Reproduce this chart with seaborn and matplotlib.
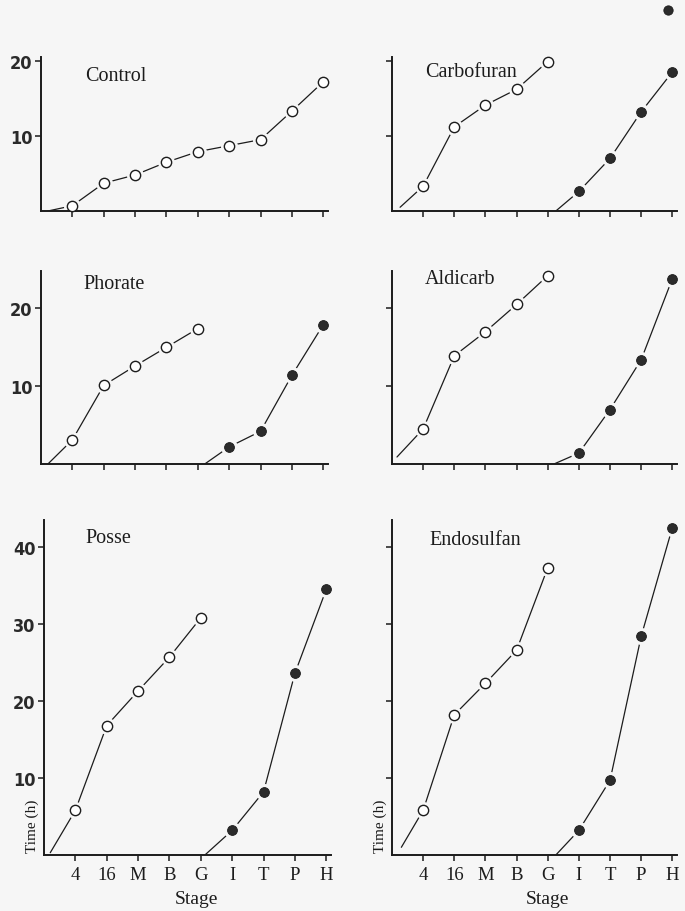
import numpy as np
import pandas as pd
import matplotlib
matplotlib.use("Agg")
import matplotlib.pyplot as plt
import seaborn as sns

stages = ['4', '16', 'M', 'B', 'G', 'I', 'T', 'P', 'H']
panels = ['Control', 'Carbofuran', 'Phorate', 'Aldicarb', 'Posse', 'Endosulfan']

# Time (h) at each stage; open circles = stages 4..G (or all, control), filled = I..H
control_open = [0.7, 3.7, 4.8, 6.5, 7.9, 8.7, 9.5, 13.3, 17.2]
carbofuran_open = [3.3, 11.2, 14.1, 16.2, 19.9]
carbofuran_filled = [2.6, 7.0, 13.2, 18.5]
phorate_open = [3.1, 10.1, 12.6, 15.0, 17.4]
phorate_filled = [2.2, 4.2, 11.4, 17.9]
aldicarb_open = [4.5, 13.9, 17.0, 20.5, 24.2]
aldicarb_filled = [1.4, 7.0, 13.4, 23.8]
posse_open = [5.8, 16.8, 21.3, 25.7, 30.8]
posse_filled = [3.2, 8.2, 23.6, 34.5]
endosulfan_open = [5.8, 18.2, 22.3, 26.6, 37.3]
endosulfan_filled = [3.2, 9.7, 28.4, 42.5]

# where each curve leaves the x axis (stage position, time)
open_start_x = [0.22, 0.26, 0.22, 0.16, 0.20, 0.30]
open_start_y = [0.0, 0.5, 0.0, 0.9, 0.3, 1.0]
filled_start_x = [None, 5.26, 5.22, 5.20, 5.13, 5.26]
filled_start_y = [None, 0.0, 0.0, 0.0, 0.0, 0.0]

# isolated filled dot printed above the Carbofuran panel
carbofuran_extra_x = [8.87]
carbofuran_extra_y = [26.7]

row_ylim = [20.5, 24.8, 43.5]
row_yticks = [[10, 20], [10, 20], [10, 20, 30, 40]]

open_series = [control_open, carbofuran_open, phorate_open, aldicarb_open, posse_open, endosulfan_open]
filled_series = [None, carbofuran_filled, phorate_filled, aldicarb_filled, posse_filled, endosulfan_filled]

BG = '#f6f6f6'
INK = '#1c1c1c'

sns.set_style('ticks')
plt.rcParams['font.family'] = ['Liberation Serif', 'DejaVu Serif']
plt.rcParams['axes.linewidth'] = 1.4

fig = plt.figure(figsize=(6.85, 9.12), dpi=100, facecolor=BG)

W, H = 685.0, 912.0
# pixel geometry: (left px, bottom px (y of zero), top px, width px)
geom = [
    (41, 212, 58, 287), (392, 212, 58, 285),
    (41, 465, 272, 287), (392, 465, 272, 285),
    (44, 856, 521, 287), (392, 856, 521, 285),
]
title_pos = [(0.154, 0.877), (0.116, 0.905), (0.147, 0.933),
             (0.116, 0.959), (0.143, 0.949), (0.133, 0.943)]

for i, name in enumerate(panels):
    l, b, t, w = geom[i]
    ax = fig.add_axes([l / W, 1 - b / H, w / W, (b - t) / H])
    ax.set_facecolor('none')
    ax.set_axisbelow(False)
    row, col = divmod(i, 2)

    pos = np.arange(1, len(stages) + 1)
    o_vals = open_series[i]
    o_x = [open_start_x[i]] + list(pos[:len(o_vals)])
    o_y = [open_start_y[i]] + list(o_vals)
    d_open = pd.DataFrame({'x': o_x, 'y': o_y})
    sns.lineplot(data=d_open, x='x', y='y', ax=ax, sort=False, estimator=None,
                 color=INK, lw=0.9, zorder=2)
    pts_open = d_open.iloc[1:]
    sns.scatterplot(data=pts_open, x='x', y='y', ax=ax, s=150, color=BG,
                    linewidth=0, zorder=2.2, clip_on=False)
    sns.scatterplot(data=pts_open, x='x', y='y', ax=ax, s=55, color='white',
                    edgecolor=INK, linewidth=1.0, zorder=4, clip_on=False)

    f_vals = filled_series[i]
    if f_vals is not None:
        f_x = [filled_start_x[i]] + list(pos[5:5 + len(f_vals)])
        f_y = [filled_start_y[i]] + list(f_vals)
        d_fill = pd.DataFrame({'x': f_x, 'y': f_y})
        sns.lineplot(data=d_fill, x='x', y='y', ax=ax, sort=False, estimator=None,
                     color=INK, lw=0.9, zorder=2)
        pts_fill = d_fill.iloc[1:]
        sns.scatterplot(data=pts_fill, x='x', y='y', ax=ax, s=150, color=BG,
                        linewidth=0, zorder=2.2, clip_on=False)
        sns.scatterplot(data=pts_fill, x='x', y='y', ax=ax, s=50, color='#2b2b2b',
                        edgecolor=INK, linewidth=0.6, zorder=4, clip_on=False)

    if name == 'Carbofuran':
        d_ex = pd.DataFrame({'x': carbofuran_extra_x, 'y': carbofuran_extra_y})
        sns.scatterplot(data=d_ex, x='x', y='y', ax=ax, s=45, color='#2b2b2b',
                        edgecolor=INK, linewidth=0.6, zorder=4, clip_on=False)

    ax.set_xlim(0, 9.15)
    ax.set_ylim(0, row_ylim[row])
    ax.set_xticks(pos)
    ax.set_yticks(row_yticks[row])
    sns.despine(ax=ax)
    for s in ('left', 'bottom'):
        ax.spines[s].set_color(INK)
    ax.tick_params(axis='both', direction='out', length=4, width=1.1, color=INK)
    ax.tick_params(axis='y', pad=2)
    ax.tick_params(axis='x', pad=4)

    if row == 2:
        ax.set_xticklabels(stages, fontsize=13.5, color=INK)
        ax.text(0.53 if col == 0 else 0.545, -0.13, 'Stage', transform=ax.transAxes,
                ha='center', va='center', fontsize=14, color=INK)
        ax.text(-0.04, 0.088, 'Time (h)', transform=ax.transAxes, rotation=90,
                ha='center', va='center', fontsize=11, color=INK)
    else:
        ax.set_xticklabels([])
    if col == 0:
        ax.set_yticklabels([str(v) for v in row_yticks[row]], fontsize=13,
                           family='DejaVu Sans', fontstretch='condensed',
                           fontweight='bold', color='#2a2a2a')
    else:
        ax.set_yticklabels([])
    ax.set_xlabel('')
    ax.set_ylabel('')

    ax.text(title_pos[i][0], title_pos[i][1], name, transform=ax.transAxes,
            ha='left', va='center', fontsize=14.5, color=INK)

fig.savefig('out.png', dpi=100, facecolor=BG)
